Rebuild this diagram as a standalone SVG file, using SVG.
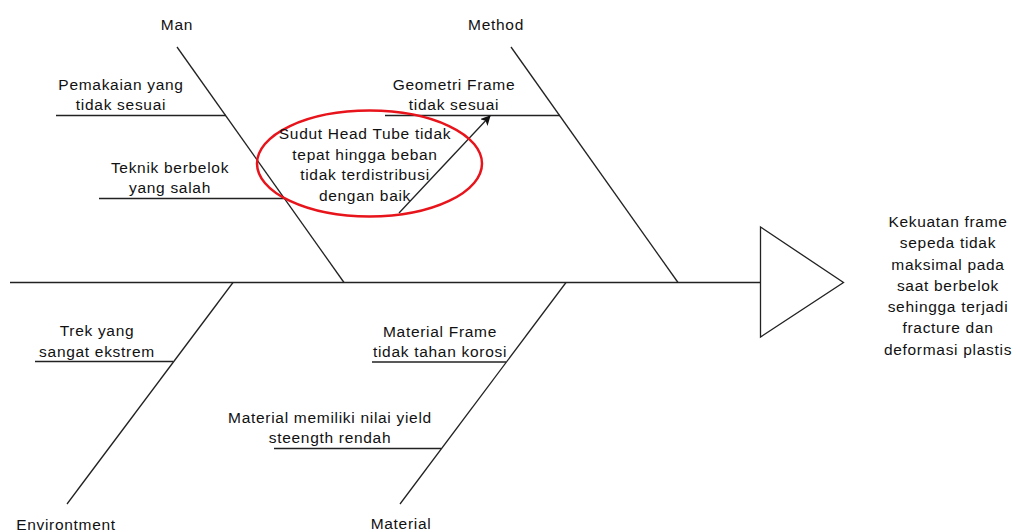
<svg xmlns="http://www.w3.org/2000/svg" width="1020" height="532" viewBox="0 0 1020 532">
<style>
.ln{stroke:#222;stroke-width:1.3;fill:none}
text{font-family:"Liberation Sans",Arial,sans-serif;font-size:15.5px;fill:#111;text-anchor:middle;letter-spacing:0.7px}
</style>
<defs>
<marker id="ah" markerWidth="10" markerHeight="10" refX="9" refY="5" orient="auto" markerUnits="userSpaceOnUse" viewBox="0 0 10 10">
<path d="M0,0 L10,5 L0,10 L2.5,5 z" fill="#111"/>
</marker>
</defs>
<rect width="1020" height="532" fill="#fff"/>
<g id="connectors">
<line class="ln" x1="10" y1="282.5" x2="760" y2="282.5"/>
<line class="ln" x1="177" y1="47" x2="344" y2="282.5"/>
<line class="ln" x1="511" y1="47" x2="678" y2="282.5"/>
<line class="ln" x1="233" y1="282.5" x2="67" y2="504"/>
<line class="ln" x1="566" y1="282.5" x2="400" y2="504"/>
<line class="ln" x1="56" y1="115.5" x2="226" y2="115.5"/>
<line class="ln" x1="99" y1="198.5" x2="285" y2="198.5"/>
<line class="ln" x1="385" y1="115.5" x2="560" y2="115.5"/>
<line class="ln" x1="35" y1="361.5" x2="173" y2="361.5"/>
<line class="ln" x1="372" y1="362" x2="506" y2="362"/>
<line class="ln" x1="274" y1="448.5" x2="441" y2="448.5"/>
<line class="ln" x1="399" y1="213" x2="490" y2="116" marker-end="url(#ah)"/>
</g>
<g id="head">
<polygon class="ln" points="760.5,227 843.5,282.5 760.5,337" fill="#fff"/>
<text x="948" y="227">Kekuatan frame</text>
<text x="948" y="248">sepeda tidak</text>
<text x="948" y="270">maksimal pada</text>
<text x="948" y="291">saat berbelok</text>
<text x="948" y="312">sehingga terjadi</text>
<text x="948" y="333">fracture dan</text>
<text x="948" y="355">deformasi plastis</text>
</g>
<g id="man"><text x="177" y="30">Man</text></g>
<g id="method"><text x="496" y="30">Method</text></g>
<g id="environment"><text x="66" y="530">Environtment</text></g>
<g id="material"><text x="401" y="529">Material</text></g>
<g id="cause-pemakaian"><text x="121" y="90">Pemakaian yang</text><text x="121" y="110">tidak sesuai</text></g>
<g id="cause-teknik"><text x="170" y="173">Teknik berbelok</text><text x="170" y="193">yang salah</text></g>
<g id="cause-geometri"><text x="454" y="90">Geometri Frame</text><text x="454" y="110">tidak sesuai</text></g>
<g id="cause-trek"><text x="97" y="336">Trek yang</text><text x="97" y="357">sangat ekstrem</text></g>
<g id="cause-korosi"><text x="440" y="337">Material Frame</text><text x="440" y="357">tidak tahan korosi</text></g>
<g id="cause-yield"><text x="330" y="423">Material memiliki nilai yield</text><text x="330" y="443">steength rendah</text></g>
<g id="sudut">
<ellipse cx="369.5" cy="163.5" rx="112.5" ry="53" fill="none" stroke="#e8141b" stroke-width="2.5"/>
<text x="365" y="139">Sudut Head Tube tidak</text>
<text x="365" y="159.5">tepat hingga beban</text>
<text x="365" y="180">tidak terdistribusi</text>
<text x="365" y="200.5">dengan baik</text>
</g>
</svg>
